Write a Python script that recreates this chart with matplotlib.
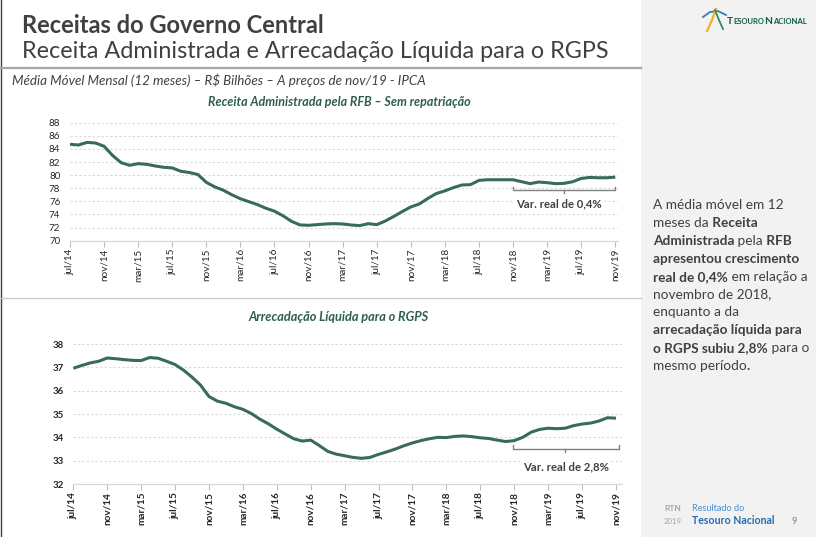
import matplotlib
matplotlib.use("Agg")
import matplotlib.pyplot as plt
from matplotlib.lines import Line2D
from matplotlib.patches import Rectangle

FONT = ["Lato", "DejaVu Sans"]
plt.rcParams['font.family'] = FONT

# ---------------- data ----------------
tick_labels = ["jul/14", "nov/14", "mar/15", "jul/15", "nov/15", "mar/16", "jul/16",
               "nov/16", "mar/17", "jul/17", "nov/17", "mar/18", "jul/18", "nov/18",
               "mar/19", "jul/19", "nov/19"]

receita_rfb = [84.7, 84.6, 85.0, 84.9, 84.4, 83.0, 81.9, 81.5, 81.75, 81.65,
               81.4, 81.2, 81.1, 80.6, 80.4, 80.1, 78.9, 78.2, 77.7, 77.0,
               76.4, 75.95, 75.5, 74.95, 74.5, 73.8, 72.95, 72.4, 72.35, 72.45,
               72.55, 72.6, 72.55, 72.4, 72.3, 72.6, 72.45, 73.0, 73.7, 74.45,
               75.15, 75.6, 76.45, 77.2, 77.6, 78.1, 78.5, 78.55, 79.2, 79.3,
               79.3, 79.3, 79.3, 79.0, 78.7, 78.95, 78.85, 78.7, 78.75, 79.0,
               79.5, 79.65, 79.6, 79.6, 79.7]

arrec_rgps = [36.96, 37.08, 37.19, 37.26, 37.4, 37.37, 37.33, 37.3, 37.29, 37.42,
              37.39, 37.26, 37.12, 36.88, 36.58, 36.24, 35.75, 35.55, 35.46, 35.31,
              35.2, 35.02, 34.78, 34.58, 34.35, 34.14, 33.94, 33.84, 33.88, 33.65,
              33.4, 33.28, 33.21, 33.14, 33.1, 33.14, 33.27, 33.38, 33.5, 33.64,
              33.76, 33.86, 33.94, 34.0, 33.99, 34.04, 34.06, 34.03, 33.98, 33.95,
              33.88, 33.82, 33.86, 34.0, 34.22, 34.34, 34.39, 34.37, 34.39, 34.5,
              34.57, 34.61, 34.7, 34.84, 34.82]

period_start = 52   # nov/18
period_end = 64     # nov/19
var_rfb = "Var. real de 0,4%"
var_rgps = "Var. real de 2,8%"

# ---------------- figure ----------------
W, H = 816, 537
fig = plt.figure(figsize=(W / 100, H / 100), dpi=100)
fig.patch.set_facecolor("white")


def fx(x):
    return x / W


def fy(y):
    return 1 - y / H


# right grey panel
fig.patches.append(Rectangle((fx(641), 0), 1 - fx(641), 1, transform=fig.transFigure,
                             facecolor="#f2f2f2", edgecolor="none", zorder=0))
# left border
fig.lines.append(Line2D([fx(0.7), fx(0.7)], [0, 1], transform=fig.transFigure,
                        color="#404040", lw=1.0))
# header rule
fig.lines.append(Line2D([0, fx(641)], [fy(68), fy(68)], transform=fig.transFigure,
                        color="#a6a6a6", lw=1.6))
# separator between charts
fig.lines.append(Line2D([0, fx(641)], [fy(298), fy(298)], transform=fig.transFigure,
                        color="#c8c8c8", lw=0.9))

TXT = "#404040"
GREEN = "#2f5f50"
LINEC = "#376b5b"

fig.text(fx(22), fy(33), "Receitas do Governo Central", fontsize=17.0,
         fontweight="bold", color=TXT, va="baseline", ha="left")
fig.text(fx(22), fy(58), "Receita Administrada e Arrecadação Líquida para o RGPS",
         fontsize=16.8, color=TXT, va="baseline", ha="left")
fig.text(fx(12), fy(80), "Média Móvel Mensal (12 meses) – R$ Bilhões – A preços de nov/19 - IPCA",
         fontsize=9.6, style="italic", color=TXT, va="center", ha="left")
fig.text(fx(339), fy(102), "Receita Administrada pela RFB – Sem repatriação",
         fontsize=9.0, style="italic", fontweight="bold", color=GREEN, va="center", ha="center")
fig.text(fx(339), fy(317), "Arrecadação Líquida para o RGPS",
         fontsize=9.2, style="italic", fontweight="bold", color=GREEN, va="center", ha="center")


def style_axes(ax, ylo, yhi, ystep, bold):
    ax.set_facecolor("none")
    for s in ["top", "right", "left"]:
        ax.spines[s].set_visible(False)
    ax.spines["bottom"].set_color("#d9d9d9")
    ax.spines["bottom"].set_linewidth(0.9)
    ax.set_ylim(ylo, yhi)
    ax.set_yticks(list(range(ylo, yhi + 1, ystep)))
    ax.yaxis.grid(True, linestyle=(0, (2, 2)), color="#d9d9d9", lw=0.8)
    ax.set_axisbelow(True)
    ax.set_xticks(list(range(0, 65, 4)))
    ax.set_xticklabels(tick_labels, rotation=90, fontsize=7.2,
                       fontweight="bold" if bold else "normal", color="#262626")
    ax.tick_params(axis="x", direction="out", length=4, width=0.8, color="#bfbfbf", pad=1.5)
    ax.tick_params(axis="y", length=0, pad=7, labelsize=7.0, labelcolor="#262626")
    if bold:
        for lab in ax.get_yticklabels():
            lab.set_fontweight("bold")


x = list(range(len(receita_rfb)))

# ---------- top chart ----------
ax1 = fig.add_axes([fx(70), fy(240.7), (617.7 - 70) / W, (240.7 - 122.7) / H])
style_axes(ax1, 70, 88, 2, False)
ax1.set_xlim(0, 64.28)
ax1.plot(x, receita_rfb, color=LINEC, lw=2.2, solid_capstyle="butt", zorder=3)
yb, up, dn = 77.7, 0.5, 0.4
mid = (period_start + period_end) / 2
ax1.plot([period_start, period_start, period_end, period_end], [yb + up, yb, yb, yb + up],
         color="#808080", lw=1.0, zorder=2)
ax1.plot([mid, mid], [yb, yb - dn], color="#808080", lw=1.0, zorder=2)
ax1.text(mid - 0.6, 75.6, var_rfb, fontsize=8.2, fontweight="bold", color=TXT,
         ha="center", va="center", zorder=4,
         bbox=dict(facecolor="white", edgecolor="none", pad=1.0))

# ---------- bottom chart ----------
ax2 = fig.add_axes([fx(73.3), fy(484), (622 - 73.3) / W, (484 - 344) / H])
style_axes(ax2, 32, 38, 1, True)
ax2.set_xlim(0, 64.71)
ax2.plot(x, arrec_rgps, color=LINEC, lw=2.2, solid_capstyle="butt", zorder=3)
yb, up, dn = 33.5, 0.17, 0.13
ax2.plot([period_start - 0.2, period_start - 0.2, period_end + 0.3, period_end + 0.3],
         [yb + up, yb, yb, yb + up], color="#808080", lw=1.0, zorder=2)
ax2.plot([mid, mid], [yb, yb - dn], color="#808080", lw=1.0, zorder=2)
ax2.text(mid + 0.1, 32.74, var_rgps, fontsize=8.2, fontweight="bold", color=TXT,
         ha="center", va="center", zorder=4,
         bbox=dict(facecolor="white", edgecolor="none", pad=1.0))

# ---------- right panel text ----------
renderer = fig.canvas.get_renderer()


def draw_runs(x0, ybase, runs, color, gap=0.0):
    cur = x0
    for txt, w, sz in runs:
        t = fig.text(fx(cur), fy(ybase), txt, fontsize=sz, fontweight=w, color=color,
                     va="baseline", ha="left")
        cur += t.get_window_extent(renderer).width + gap


R, B = "normal", "bold"
PS = 9.8
panel_lines = [
    [("A média móvel em 12", R)],
    [("meses da", R), (" Receita", B)],
    [("Administrada", B), (" pela", R), (" RFB", B)],
    [("apresentou crescimento", B)],
    [("real de 0,4%", B), (" em relação a", R)],
    [("novembro de 2018,", R)],
    [("enquanto a da", R)],
    [("arrecadação líquida para", B)],
    [("o RGPS subiu 2,8%", B), (" para o", R)],
    [("mesmo período", R), (".", B)],
]
for i, runs in enumerate(panel_lines):
    draw_runs(653, 209 + 17.9 * i, [(t, w, PS) for t, w in runs], TXT)

# logo
draw_runs(727, 23.5, [("T", B, 7.4), ("ESOURO", B, 5.5), ("N", B, 7.4), ("ACIONAL", B, 5.5)],
          "#0f5c4a", gap=0.3)
# icon strokes
fig.lines.append(Line2D([fx(703), fx(710), fx(718), fx(726)], [fy(17), fy(12), fy(11), fy(15)],
                        transform=fig.transFigure, color="#2f7fc1", lw=1.3))
fig.lines.append(Line2D([fx(707), fx(712), fx(716)], [fy(31), fy(20), fy(9)],
                        transform=fig.transFigure, color="#f2b01e", lw=1.6))
fig.lines.append(Line2D([fx(715), fx(719), fx(723)], [fy(10), fy(20), fy(29)],
                        transform=fig.transFigure, color="#2e8b57", lw=1.3))

# footer
fig.text(fx(664), fy(511), "RTN", fontsize=6.0, fontweight="bold", color="#a6a6a6",
         va="baseline", ha="left")
fig.text(fx(664), fy(524), "2019", fontsize=5.6, color="#a6a6a6", va="baseline", ha="left")
fig.text(fx(692), fy(511), "Resultado do", fontsize=6.6, color="#4a8fcf", va="baseline", ha="left")
fig.text(fx(692), fy(524), "Tesouro Nacional", fontsize=7.6, fontweight="bold", color="#1f6db3",
         va="baseline", ha="left")
fig.text(fx(792), fy(524), "9", fontsize=6.6, color="#808080", va="baseline", ha="left")

fig.savefig("out.png", dpi=100, facecolor=fig.get_facecolor())
